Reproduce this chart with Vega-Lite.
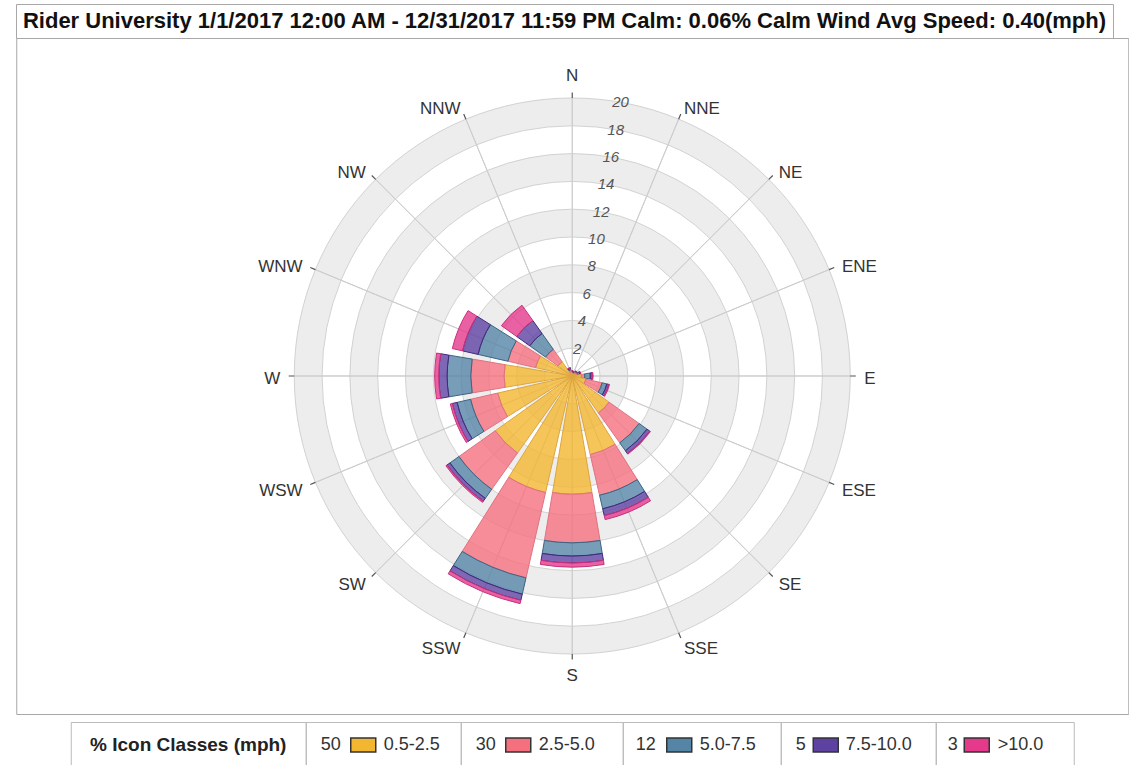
{
  "$schema": "https://vega.github.io/schema/vega-lite/v6.json",
  "background": "white",
  "padding": {"left": 15, "top": 3, "right": 0, "bottom": 0},
  "config": {
    "font": "Liberation Sans",
    "view": {"stroke": "#A8A8A8", "strokeWidth": 1}
  },
  "datasets": {
    "dirs": [
      {"dir": "N", "deg": 0}, {"dir": "NNE", "deg": 22.5}, {"dir": "NE", "deg": 45}, {"dir": "ENE", "deg": 67.5},
      {"dir": "E", "deg": 90}, {"dir": "ESE", "deg": 112.5}, {"dir": "SE", "deg": 135}, {"dir": "SSE", "deg": 157.5},
      {"dir": "S", "deg": 180}, {"dir": "SSW", "deg": 202.5}, {"dir": "SW", "deg": 225}, {"dir": "WSW", "deg": 247.5},
      {"dir": "W", "deg": 270}, {"dir": "WNW", "deg": 292.5}, {"dir": "NW", "deg": 315}, {"dir": "NNW", "deg": 337.5}
    ],
    "rings": [{"v": 2}, {"v": 4}, {"v": 6}, {"v": 8}, {"v": 10}, {"v": 12}, {"v": 14}, {"v": 16}, {"v": 18}, {"v": 20}],
    "bands": [{"lo": 2, "hi": 4}, {"lo": 6, "hi": 8}, {"lo": 10, "hi": 12}, {"lo": 14, "hi": 16}, {"lo": 18, "hi": 20}],
    "classes": [
      {"cls": "0.5-2.5", "pct": 50}, {"cls": "2.5-5.0", "pct": 30}, {"cls": "5.0-7.5", "pct": 12},
      {"cls": "7.5-10.0", "pct": 5}, {"cls": ">10.0", "pct": 3}
    ],
    "rose": [
      {"dir": "N", "cls": "0.5-2.5", "pct": 0.25}, {"dir": "N", "cls": "2.5-5.0", "pct": 0.05}, {"dir": "N", "cls": "5.0-7.5", "pct": 0.05}, {"dir": "N", "cls": "7.5-10.0", "pct": 0.02}, {"dir": "N", "cls": ">10.0", "pct": 0.01},
      {"dir": "NNE", "cls": "0.5-2.5", "pct": 0.2}, {"dir": "NNE", "cls": "2.5-5.0", "pct": 0.05}, {"dir": "NNE", "cls": "5.0-7.5", "pct": 0.05}, {"dir": "NNE", "cls": "7.5-10.0", "pct": 0.02}, {"dir": "NNE", "cls": ">10.0", "pct": 0.01},
      {"dir": "NE", "cls": "0.5-2.5", "pct": 0.25}, {"dir": "NE", "cls": "2.5-5.0", "pct": 0.08}, {"dir": "NE", "cls": "5.0-7.5", "pct": 0.08}, {"dir": "NE", "cls": "7.5-10.0", "pct": 0.03}, {"dir": "NE", "cls": ">10.0", "pct": 0.01},
      {"dir": "ENE", "cls": "0.5-2.5", "pct": 0.3}, {"dir": "ENE", "cls": "2.5-5.0", "pct": 0.1}, {"dir": "ENE", "cls": "5.0-7.5", "pct": 0.15}, {"dir": "ENE", "cls": "7.5-10.0", "pct": 0.07}, {"dir": "ENE", "cls": ">10.0", "pct": 0.02},
      {"dir": "E", "cls": "0.5-2.5", "pct": 0.65}, {"dir": "E", "cls": "2.5-5.0", "pct": 0.25}, {"dir": "E", "cls": "5.0-7.5", "pct": 0.4}, {"dir": "E", "cls": "7.5-10.0", "pct": 0.15}, {"dir": "E", "cls": ">10.0", "pct": 0.05},
      {"dir": "ESE", "cls": "0.5-2.5", "pct": 1.0}, {"dir": "ESE", "cls": "2.5-5.0", "pct": 1.2}, {"dir": "ESE", "cls": "5.0-7.5", "pct": 0.35}, {"dir": "ESE", "cls": "7.5-10.0", "pct": 0.15}, {"dir": "ESE", "cls": ">10.0", "pct": 0.05},
      {"dir": "SE", "cls": "0.5-2.5", "pct": 3.25}, {"dir": "SE", "cls": "2.5-5.0", "pct": 2.65}, {"dir": "SE", "cls": "5.0-7.5", "pct": 0.7}, {"dir": "SE", "cls": "7.5-10.0", "pct": 0.25}, {"dir": "SE", "cls": ">10.0", "pct": 0.05},
      {"dir": "SSE", "cls": "0.5-2.5", "pct": 5.8}, {"dir": "SSE", "cls": "2.5-5.0", "pct": 3.0}, {"dir": "SSE", "cls": "5.0-7.5", "pct": 1.0}, {"dir": "SSE", "cls": "7.5-10.0", "pct": 0.5}, {"dir": "SSE", "cls": ">10.0", "pct": 0.3},
      {"dir": "S", "cls": "0.5-2.5", "pct": 8.5}, {"dir": "S", "cls": "2.5-5.0", "pct": 3.5}, {"dir": "S", "cls": "5.0-7.5", "pct": 0.95}, {"dir": "S", "cls": "7.5-10.0", "pct": 0.5}, {"dir": "S", "cls": ">10.0", "pct": 0.3},
      {"dir": "SSW", "cls": "0.5-2.5", "pct": 8.6}, {"dir": "SSW", "cls": "2.5-5.0", "pct": 6.3}, {"dir": "SSW", "cls": "5.0-7.5", "pct": 1.2}, {"dir": "SSW", "cls": "7.5-10.0", "pct": 0.45}, {"dir": "SSW", "cls": ">10.0", "pct": 0.25},
      {"dir": "SW", "cls": "0.5-2.5", "pct": 6.8}, {"dir": "SW", "cls": "2.5-5.0", "pct": 3.2}, {"dir": "SW", "cls": "5.0-7.5", "pct": 0.8}, {"dir": "SW", "cls": "7.5-10.0", "pct": 0.25}, {"dir": "SW", "cls": ">10.0", "pct": 0.1},
      {"dir": "WSW", "cls": "0.5-2.5", "pct": 5.5}, {"dir": "WSW", "cls": "2.5-5.0", "pct": 2.0}, {"dir": "WSW", "cls": "5.0-7.5", "pct": 1.0}, {"dir": "WSW", "cls": "7.5-10.0", "pct": 0.35}, {"dir": "WSW", "cls": ">10.0", "pct": 0.15},
      {"dir": "W", "cls": "0.5-2.5", "pct": 4.9}, {"dir": "W", "cls": "2.5-5.0", "pct": 2.4}, {"dir": "W", "cls": "5.0-7.5", "pct": 1.7}, {"dir": "W", "cls": "7.5-10.0", "pct": 0.6}, {"dir": "W", "cls": ">10.0", "pct": 0.3},
      {"dir": "WNW", "cls": "0.5-2.5", "pct": 2.7}, {"dir": "WNW", "cls": "2.5-5.0", "pct": 2.05}, {"dir": "WNW", "cls": "5.0-7.5", "pct": 2.2}, {"dir": "WNW", "cls": "7.5-10.0", "pct": 1.15}, {"dir": "WNW", "cls": ">10.0", "pct": 0.75},
      {"dir": "NW", "cls": "0.5-2.5", "pct": 1.25}, {"dir": "NW", "cls": "2.5-5.0", "pct": 1.1}, {"dir": "NW", "cls": "5.0-7.5", "pct": 1.4}, {"dir": "NW", "cls": "7.5-10.0", "pct": 1.15}, {"dir": "NW", "cls": ">10.0", "pct": 1.35},
      {"dir": "NNW", "cls": "0.5-2.5", "pct": 0.3}, {"dir": "NNW", "cls": "2.5-5.0", "pct": 0.15}, {"dir": "NNW", "cls": "5.0-7.5", "pct": 0.1}, {"dir": "NNW", "cls": "7.5-10.0", "pct": 0.05}, {"dir": "NNW", "cls": ">10.0", "pct": 0.02}
    ]
  },
  "spacing": 0,
  "bounds": "flush",
  "vconcat": [
    {
      "width": 1097,
      "height": 34,
      "view": {"stroke": "#A8A8A8", "strokeWidth": 1},
      "data": {"values": [{"label": "Rider University 1/1/2017 12:00 AM - 12/31/2017 11:59 PM Calm: 0.06%  Calm Wind Avg Speed: 0.40(mph)"}]},
      "mark": {"type": "text", "fontWeight": "bold", "fontSize": 22, "color": "#111111"},
      "encoding": {"text": {"field": "label"}}
    },
    {
      "spacing": 6,
      "center": true,
      "vconcat": [
        {
          "width": 1112,
          "height": 676,
          "view": {"stroke": "#A8A8A8", "strokeWidth": 1},
          "layer": [
            {
              "data": {"name": "bands"},
              "mark": {"type": "arc", "color": "#EDEDED"},
              "encoding": {
                "theta": {"datum": 0, "type": "quantitative", "scale": {"type": "linear", "domain": [0, 360], "range": [0, 6.283185307179586], "zero": true, "nice": false}},
                "theta2": {"datum": 360},
                "radius": {"field": "lo", "type": "quantitative", "stack": null, "scale": {"type": "linear", "domain": [0, 20], "range": [0, 278], "zero": true, "nice": false}},
                "radius2": {"field": "hi"}
              }
            },
            {
              "data": {"name": "rings"},
              "mark": {"type": "arc", "filled": false, "stroke": "#D2D2D2", "strokeWidth": 1},
              "encoding": {
                "theta": {"datum": 0, "type": "quantitative"},
                "theta2": {"datum": 360},
                "radius": {"field": "v", "type": "quantitative", "stack": null}
              }
            },
            {
              "data": {"name": "dirs"},
              "mark": {"type": "arc", "filled": false, "stroke": "#CDCDCD", "strokeWidth": 1},
              "encoding": {
                "theta": {"field": "deg", "type": "quantitative", "stack": null},
                "theta2": {"field": "deg"},
                "radius": {"datum": 20, "type": "quantitative", "stack": null}
              }
            },
            {
              "data": {"name": "rose"},
              "transform": [
                {"lookup": "dir", "from": {"data": {"name": "dirs"}, "key": "dir", "fields": ["deg"]}},
                {"stack": "pct", "groupby": ["dir"], "sort": [{"field": "cls", "order": "ascending"}], "as": ["r0", "r1"]},
                {"calculate": "datum.deg - 9.6", "as": "t0"},
                {"calculate": "datum.deg + 9.6", "as": "t1"}
              ],
              "mark": {"type": "arc", "fillOpacity": 0.8, "strokeWidth": 1},
              "encoding": {
                "theta": {"field": "t0", "type": "quantitative", "stack": null},
                "theta2": {"field": "t1"},
                "radius": {"field": "r0", "type": "quantitative", "stack": null},
                "radius2": {"field": "r1"},
                "fill": {
                  "field": "cls", "type": "nominal", "legend": null,
                  "scale": {"domain": ["0.5-2.5", "2.5-5.0", "5.0-7.5", "7.5-10.0", ">10.0"], "range": ["#F2B630", "#F4707E", "#5585A6", "#5E42A2", "#E53A8C"]}
                },
                "stroke": {
                  "field": "cls", "type": "nominal", "legend": null,
                  "scale": {"domain": ["0.5-2.5", "2.5-5.0", "5.0-7.5", "7.5-10.0", ">10.0"], "range": ["#DDA53E", "#E07282", "#3A6584", "#42287C", "#C8307C"]}
                }
              }
            },
            {
              "data": {"name": "dirs"},
              "mark": {"type": "arc", "filled": false, "stroke": "#555555", "strokeWidth": 1.2},
              "encoding": {
                "theta": {"field": "deg", "type": "quantitative", "stack": null},
                "theta2": {"field": "deg"},
                "radius": {"datum": 20, "type": "quantitative", "stack": null},
                "radius2": {"datum": 20.4}
              }
            },
            {
              "data": {"name": "rings"},
              "mark": {"type": "text", "fontStyle": "italic", "fontSize": 15, "color": "#555555", "baseline": "middle", "align": "center"},
              "encoding": {
                "theta": {"datum": 10, "type": "quantitative"},
                "radius": {"field": "v", "type": "quantitative", "stack": null},
                "text": {"field": "v", "type": "quantitative"}
              }
            },
            {
              "data": {"name": "dirs"},
              "transform": [{"filter": "datum.deg > 0 && datum.deg < 180"}],
              "mark": {"type": "text", "fontSize": 17, "color": "#333333", "align": "left", "baseline": "middle", "dy": 3},
              "encoding": {
                "theta": {"field": "deg", "type": "quantitative"},
                "radius": {"datum": 21, "type": "quantitative"},
                "text": {"field": "dir"}
              }
            },
            {
              "data": {"name": "dirs"},
              "transform": [{"filter": "datum.deg > 180"}],
              "mark": {"type": "text", "fontSize": 17, "color": "#333333", "align": "right", "baseline": "middle", "dy": 3},
              "encoding": {
                "theta": {"field": "deg", "type": "quantitative"},
                "radius": {"datum": 21, "type": "quantitative"},
                "text": {"field": "dir"}
              }
            },
            {
              "data": {"name": "dirs"},
              "transform": [{"filter": "datum.deg === 0"}],
              "mark": {"type": "text", "fontSize": 17, "color": "#333333", "align": "center", "baseline": "bottom"},
              "encoding": {
                "theta": {"field": "deg", "type": "quantitative"},
                "radius": {"datum": 20.95, "type": "quantitative"},
                "text": {"field": "dir"}
              }
            },
            {
              "data": {"name": "dirs"},
              "transform": [{"filter": "datum.deg === 180"}],
              "mark": {"type": "text", "fontSize": 17, "color": "#333333", "align": "center", "baseline": "top"},
              "encoding": {
                "theta": {"field": "deg", "type": "quantitative"},
                "radius": {"datum": 21, "type": "quantitative"},
                "text": {"field": "dir"}
              }
            }
          ]
        },
        {
          "spacing": 0,
          "bounds": "flush",
          "hconcat": [
            {
              "width": 235,
              "height": 46,
              "view": {"stroke": "#BBBBBB", "strokeWidth": 1},
              "data": {"values": [{"h": "%  Icon  Classes (mph)"}]},
              "mark": {"type": "text", "fontWeight": "bold", "fontSize": 19, "color": "#222222"},
              "encoding": {"text": {"field": "h"}}
            },
            {
              "width": 155,
              "height": 46,
              "view": {"stroke": "#BBBBBB", "strokeWidth": 1},
              "data": {"name": "classes"},
              "transform": [{"filter": "datum.cls === '0.5-2.5'"}],
              "layer": [
                {"mark": {"type": "text", "align": "left", "dx": -62.5, "fontSize": 18, "color": "#333333"}, "encoding": {"text": {"field": "pct"}}},
                {"mark": {"type": "point", "shape": "M-1,-0.56H1V0.56H-1Z", "filled": true, "size": 625, "xOffset": -20, "stroke": "#333333", "strokeWidth": 1.5, "opacity": 1},
                 "encoding": {"fill": {"field": "cls", "type": "nominal", "legend": null, "scale": {"domain": ["0.5-2.5", "2.5-5.0", "5.0-7.5", "7.5-10.0", ">10.0"], "range": ["#F2B630", "#F4707E", "#4A7C9C", "#5A3D9E", "#E53A8C"]}}}},
                {"mark": {"type": "text", "align": "left", "dx": 0.5, "fontSize": 18, "color": "#333333"}, "encoding": {"text": {"field": "cls"}}}
              ]
            },
            {
              "width": 162,
              "height": 46,
              "view": {"stroke": "#BBBBBB", "strokeWidth": 1},
              "data": {"name": "classes"},
              "transform": [{"filter": "datum.cls === '2.5-5.0'"}],
              "layer": [
                {"mark": {"type": "text", "align": "left", "dx": -66, "fontSize": 18, "color": "#333333"}, "encoding": {"text": {"field": "pct"}}},
                {"mark": {"type": "point", "shape": "M-1,-0.56H1V0.56H-1Z", "filled": true, "size": 625, "xOffset": -23.5, "stroke": "#333333", "strokeWidth": 1.5, "opacity": 1},
                 "encoding": {"fill": {"field": "cls", "type": "nominal", "legend": null, "scale": {"domain": ["0.5-2.5", "2.5-5.0", "5.0-7.5", "7.5-10.0", ">10.0"], "range": ["#F2B630", "#F4707E", "#4A7C9C", "#5A3D9E", "#E53A8C"]}}}},
                {"mark": {"type": "text", "align": "left", "dx": -3, "fontSize": 18, "color": "#333333"}, "encoding": {"text": {"field": "cls"}}}
              ]
            },
            {
              "width": 158,
              "height": 46,
              "view": {"stroke": "#BBBBBB", "strokeWidth": 1},
              "data": {"name": "classes"},
              "transform": [{"filter": "datum.cls === '5.0-7.5'"}],
              "layer": [
                {"mark": {"type": "text", "align": "left", "dx": -66, "fontSize": 18, "color": "#333333"}, "encoding": {"text": {"field": "pct"}}},
                {"mark": {"type": "point", "shape": "M-1,-0.56H1V0.56H-1Z", "filled": true, "size": 625, "xOffset": -22.5, "stroke": "#333333", "strokeWidth": 1.5, "opacity": 1},
                 "encoding": {"fill": {"field": "cls", "type": "nominal", "legend": null, "scale": {"domain": ["0.5-2.5", "2.5-5.0", "5.0-7.5", "7.5-10.0", ">10.0"], "range": ["#F2B630", "#F4707E", "#4A7C9C", "#5A3D9E", "#E53A8C"]}}}},
                {"mark": {"type": "text", "align": "left", "dx": -2, "fontSize": 18, "color": "#333333"}, "encoding": {"text": {"field": "cls"}}}
              ]
            },
            {
              "width": 155,
              "height": 46,
              "view": {"stroke": "#BBBBBB", "strokeWidth": 1},
              "data": {"name": "classes"},
              "transform": [{"filter": "datum.cls === '7.5-10.0'"}],
              "layer": [
                {"mark": {"type": "text", "align": "left", "dx": -62.5, "fontSize": 18, "color": "#333333"}, "encoding": {"text": {"field": "pct"}}},
                {"mark": {"type": "point", "shape": "M-1,-0.56H1V0.56H-1Z", "filled": true, "size": 625, "xOffset": -32.5, "stroke": "#333333", "strokeWidth": 1.5, "opacity": 1},
                 "encoding": {"fill": {"field": "cls", "type": "nominal", "legend": null, "scale": {"domain": ["0.5-2.5", "2.5-5.0", "5.0-7.5", "7.5-10.0", ">10.0"], "range": ["#F2B630", "#F4707E", "#4A7C9C", "#5A3D9E", "#E53A8C"]}}}},
                {"mark": {"type": "text", "align": "left", "dx": -12.5, "fontSize": 18, "color": "#333333"}, "encoding": {"text": {"field": "cls"}}}
              ]
            },
            {
              "width": 138,
              "height": 46,
              "view": {"stroke": "#BBBBBB", "strokeWidth": 1},
              "data": {"name": "classes"},
              "transform": [{"filter": "datum.cls === '>10.0'"}],
              "layer": [
                {"mark": {"type": "text", "align": "left", "dx": -57, "fontSize": 18, "color": "#333333"}, "encoding": {"text": {"field": "pct"}}},
                {"mark": {"type": "point", "shape": "M-1,-0.56H1V0.56H-1Z", "filled": true, "size": 625, "xOffset": -28, "stroke": "#333333", "strokeWidth": 1.5, "opacity": 1},
                 "encoding": {"fill": {"field": "cls", "type": "nominal", "legend": null, "scale": {"domain": ["0.5-2.5", "2.5-5.0", "5.0-7.5", "7.5-10.0", ">10.0"], "range": ["#F2B630", "#F4707E", "#4A7C9C", "#5A3D9E", "#E53A8C"]}}}},
                {"mark": {"type": "text", "align": "left", "dx": -7, "fontSize": 18, "color": "#333333"}, "encoding": {"text": {"field": "cls"}}}
              ]
            }
          ]
        }
      ]
    }
  ]
}
